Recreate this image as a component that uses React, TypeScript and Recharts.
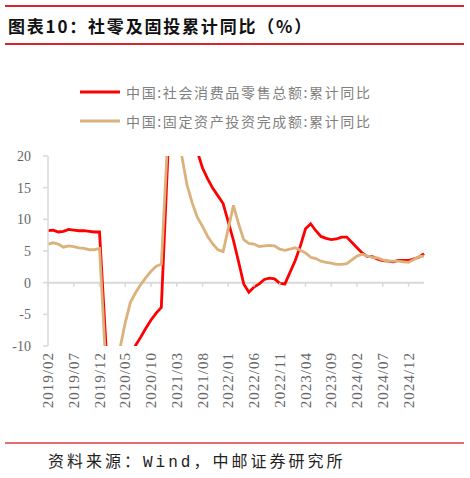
import React from 'react';
import { LineChart, Line, XAxis, YAxis, ReferenceLine, Legend } from 'recharts';

// Canvas + plot layout
const W = 470;
const H = 478;
const MARGIN = { top: 156, right: 46, bottom: 62, left: 0 };
const X_AXIS_H = 70;
const Y_AXIS_W = 48;
const PLOT_TOP = MARGIN.top;
const PLOT_BOTTOM = H - MARGIN.bottom - X_AXIS_H;

const Y_DOMAIN: [number, number] = [-10, 20];
const Y_TICKS = [-10, -5, 0, 5, 10, 15, 20];

const RETAIL_NAME = '中国:社会消费品零售总额:累计同比';
const FAI_NAME = '中国:固定资产投资完成额:累计同比';
const LEGEND_ORDER = ['retail', 'fai'];

// Monthly categories 2019/02 .. 2025/03 (January has no release -> null)
const years = [2019, 2020, 2021, 2022, 2023, 2024, 2025];
const months = years.flatMap((y) =>
  ['01', '02', '03', '04', '05', '06', '07', '08', '09', '10', '11', '12'].map((m) => `${y}/${m}`)
).filter((m) => m >= '2019/02' && m <= '2025/03');

// 社零累计同比 (%)
const retail2019 = [8.2, 8.3, 8.0, 8.1, 8.4, 8.3, 8.2, 8.2, 8.1, 8.0, 8.0];
const retail2020 = [null, -20.5, -19.0, -16.2, -13.5, -11.4, -9.9, -8.6, -7.2, -5.9, -4.8, -3.9];
const retail2021 = [null, 33.8, 33.9, 29.6, 25.7, 23.0, 20.7, 18.1, 16.4, 14.9, 13.7, 12.5];
const retail2022 = [null, 6.7, 3.3, -0.2, -1.5, -0.7, -0.2, 0.5, 0.7, 0.6, -0.1, -0.2];
const retail2023 = [null, 3.5, 5.8, 8.5, 9.3, 8.2, 7.3, 7.0, 6.8, 6.9, 7.2, 7.2];
const retail2024 = [null, 5.5, 4.7, 4.1, 4.1, 3.7, 3.5, 3.4, 3.3, 3.5, 3.5, 3.5];
const retail2025 = [null, 4.0, 4.6];

// 固投累计同比 (%)
const fai2019 = [6.1, 6.3, 6.1, 5.6, 5.8, 5.7, 5.5, 5.4, 5.2, 5.2, 5.4];
const fai2020 = [null, -24.5, -16.1, -10.3, -6.3, -3.1, -1.6, -0.3, 0.8, 1.8, 2.6, 2.9];
const fai2021 = [null, 35.0, 25.6, 19.9, 15.4, 12.6, 10.3, 8.9, 7.3, 6.1, 5.2, 4.9];
const fai2022 = [null, 12.2, 9.3, 6.8, 6.2, 6.1, 5.7, 5.8, 5.9, 5.8, 5.3, 5.1];
const fai2023 = [null, 5.5, 5.1, 4.7, 4.0, 3.8, 3.4, 3.2, 3.1, 2.9, 2.9, 3.0];
const fai2024 = [null, 4.2, 4.5, 4.2, 4.0, 3.9, 3.6, 3.4, 3.4, 3.4, 3.3, 3.2];
const fai2025 = [null, 4.1, 4.2];

const retail = [...retail2019, ...retail2020, ...retail2021, ...retail2022, ...retail2023, ...retail2024, ...retail2025];
const fai = [...fai2019, ...fai2020, ...fai2021, ...fai2022, ...fai2023, ...fai2024, ...fai2025];

const chartData = months.map((m, i) => ({ month: m, retail: retail[i], fai: fai[i] }));

const AXIS_GREY = '#d9d9d9';
const TEXT_GREY = '#666666';

const zeroY = PLOT_TOP + ((PLOT_BOTTOM - PLOT_TOP) * Y_DOMAIN[1]) / (Y_DOMAIN[1] - Y_DOMAIN[0]);

// label at the bottom, small tick mark on the zero line
const MonthTick = (props: any) => {
  const { x, payload } = props;
  return (
    <g>
      <line x1={x} x2={x} y1={zeroY} y2={zeroY + 4} stroke={AXIS_GREY} strokeWidth={1.5} />
      <text
        transform={`translate(${x},${PLOT_BOTTOM + 6}) rotate(-90)`}
        textAnchor="end"
        dominantBaseline="central"
        fill={TEXT_GREY}
        fontSize={15}
        letterSpacing={1}
        fontFamily="'Liberation Serif', serif"
      >
        {payload.value}
      </text>
    </g>
  );
};

const renderLegend = (props: any) => {
  const items = [...(props.payload || [])].sort(
    (a: any, b: any) => LEGEND_ORDER.indexOf(a.dataKey) - LEGEND_ORDER.indexOf(b.dataKey)
  );
  return (
    <svg width={320} height={56}>
      {items.map((entry: any, i: number) => {
        const cy = 14 + i * 29;
        return (
          <g key={entry.value}>
            <line x1={0} x2={40} y1={cy} y2={cy} stroke={entry.color} strokeWidth={3} />
            <text
              x={46}
              y={cy}
              dominantBaseline="central"
              fontSize={14}
              fill="#7f7f7f"
              fontFamily="'Noto Sans CJK SC', sans-serif"
              textLength={244}
              lengthAdjust="spacing"
            >
              {entry.value}
            </text>
          </g>
        );
      })}
    </svg>
  );
};

export default function App() {
  return (
    <div style={{ position: 'absolute', top: 0, left: 0, width: W, height: H, background: '#fff' }}>
      <LineChart width={W} height={H} data={chartData} margin={MARGIN}>
        <XAxis
          dataKey="month"
          interval={4}
          height={X_AXIS_H}
          tick={<MonthTick />}
          tickLine={false}
          axisLine={false}
        />
        <YAxis
          width={Y_AXIS_W}
          domain={Y_DOMAIN}
          ticks={Y_TICKS}
          allowDataOverflow
          tickSize={5}
          tickMargin={12}
          axisLine={{ stroke: AXIS_GREY, strokeWidth: 1.5 }}
          tickLine={{ stroke: AXIS_GREY, strokeWidth: 1.5 }}
          tick={{ fill: TEXT_GREY, fontSize: 14, fontFamily: "'Liberation Serif', serif" }}
        />
        <ReferenceLine y={0} stroke={AXIS_GREY} strokeWidth={2} />
        <Legend
          layout="horizontal"
          verticalAlign="middle"
          align="center"
          wrapperStyle={{ top: 78, left: 80, width: 320, height: 56 }}
          content={renderLegend}
        />
        <Line
          type="linear"
          dataKey="retail"
          name={RETAIL_NAME}
          stroke="#ff0000"
          strokeWidth={2.8}
          dot={false}
          connectNulls
          isAnimationActive={false}
        />
        <Line
          type="linear"
          dataKey="fai"
          name={FAI_NAME}
          stroke="#dcb27c"
          strokeWidth={2.8}
          dot={false}
          connectNulls
          isAnimationActive={false}
        />
      </LineChart>

      {/* title block */}
      <div style={{ position: 'absolute', top: 5, left: 5, width: 459, height: 1.5, background: '#d7262b' }} />
      <div
        style={{
          position: 'absolute',
          top: 16,
          left: 8,
          fontSize: 17,
          lineHeight: '19px',
          fontWeight: 700,
          letterSpacing: 1.8,
          color: '#111',
          fontFamily: "'Noto Sans CJK SC', sans-serif",
          whiteSpace: 'nowrap',
        }}
      >
        图表10：社零及固投累计同比（%）
      </div>
      <div style={{ position: 'absolute', top: 43, left: 5, width: 459, height: 1.5, background: '#d7262b' }} />

      {/* source */}
      <div style={{ position: 'absolute', top: 442, left: 5, width: 459, height: 2, background: '#e07070' }} />
      <div
        style={{
          position: 'absolute',
          top: 453,
          left: 48,
          fontSize: 16,
          lineHeight: '20px',
          letterSpacing: 3,
          color: '#222',
          fontFamily: "'Liberation Mono', 'Noto Sans CJK SC', monospace",
          whiteSpace: 'nowrap',
        }}
      >
        资料来源：Wind，中邮证券研究所
      </div>
    </div>
  );
}
